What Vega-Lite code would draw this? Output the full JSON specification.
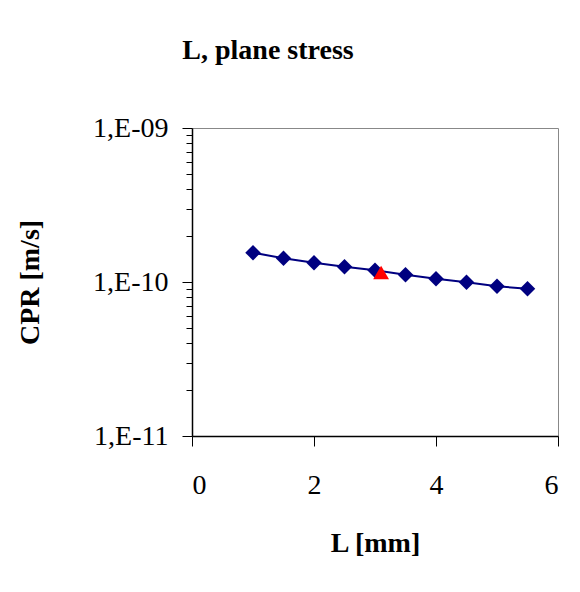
{
  "$schema": "https://vega.github.io/schema/vega-lite/v6.json",
  "autosize": {"type": "none"},
  "width": 366,
  "height": 308,
  "padding": {"left": 192, "top": 128, "right": 22, "bottom": 156},
  "background": "white",
  "config": {
    "view": {"stroke": "#888888", "strokeWidth": 1},
    "font": "Liberation Serif"
  },
  "title": {
    "text": "L, plane stress",
    "font": "Liberation Serif",
    "fontSize": 28,
    "fontWeight": "bold",
    "color": "black",
    "anchor": "middle",
    "dx": -107,
    "offset": 49
  },
  "datasets": {
    "series": [
      {"L": 1.0, "CPR": 1.55e-10},
      {"L": 1.5, "CPR": 1.425e-10},
      {"L": 2.0, "CPR": 1.334e-10},
      {"L": 2.5, "CPR": 1.257e-10},
      {"L": 3.0, "CPR": 1.19e-10},
      {"L": 3.5, "CPR": 1.115e-10},
      {"L": 4.0, "CPR": 1.05e-10},
      {"L": 4.5, "CPR": 9.95e-11},
      {"L": 5.0, "CPR": 9.38e-11},
      {"L": 5.5, "CPR": 9.05e-11}
    ],
    "ref": [
      {"L": 3.1, "CPR": 1.153e-10}
    ]
  },
  "layer": [
    {
      "data": {"name": "series"},
      "mark": {"type": "line", "color": "#000080", "strokeWidth": 2},
      "encoding": {
        "x": {
          "field": "L", "type": "quantitative",
          "scale": {"domain": [0, 6], "nice": false, "zero": false},
          "axis": {
            "title": "L [mm]",
            "values": [0, 2, 4, 6],
            "format": "d",
            "grid": false,
            "domainColor": "black",
            "domainWidth": 1.5,
            "tickColor": "black",
            "tickSize": 10,
            "tickWidth": 1,
            "labelFont": "Liberation Serif",
            "labelFontSize": 28,
            "labelColor": "black",
            "labelPadding": 25,
            "titleFont": "Liberation Serif",
            "titleFontSize": 28,
            "titleFontWeight": "bold",
            "titleColor": "black",
            "titlePadding": 30
          }
        },
        "y": {
          "field": "CPR", "type": "quantitative",
          "scale": {"type": "log", "domain": [1e-11, 1e-9], "nice": false},
          "axis": {
            "title": "CPR [m/s]",
            "values": [1e-11, 2e-11, 3e-11, 4e-11, 5e-11, 6e-11, 7e-11, 8e-11, 9e-11, 1e-10, 2e-10, 3e-10, 4e-10, 5e-10, 6e-10, 7e-10, 8e-10, 9e-10, 1e-9],
            "labelExpr": "abs(log(datum.value)/LN10 - round(log(datum.value)/LN10)) < 0.001 ? '1,E-' + (-round(log(datum.value)/LN10) < 10 ? '0' : '') + (-round(log(datum.value)/LN10)) : ''",
            "grid": false,
            "domainColor": "black",
            "domainWidth": 1.5,
            "tickColor": "black",
            "tickSize": {"condition": {"test": "abs(log(datum.value)/LN10 - round(log(datum.value)/LN10)) < 0.001", "value": 10}, "value": 6},
            "labelFont": "Liberation Serif",
            "labelFontSize": 28,
            "labelColor": "black",
            "labelPadding": 14,
            "titleFont": "Liberation Serif",
            "titleFontSize": 28,
            "titleFontWeight": "bold",
            "titleColor": "black",
            "titlePadding": 48
          }
        }
      }
    },
    {
      "data": {"name": "series"},
      "mark": {"type": "point", "shape": "diamond", "filled": true, "color": "#000080", "size": 240, "opacity": 1},
      "encoding": {
        "x": {"field": "L", "type": "quantitative"},
        "y": {"field": "CPR", "type": "quantitative"}
      }
    },
    {
      "data": {"name": "ref"},
      "mark": {"type": "point", "shape": "triangle-up", "filled": true, "color": "#ff0000", "size": 250, "opacity": 1},
      "encoding": {
        "x": {"field": "L", "type": "quantitative"},
        "y": {"field": "CPR", "type": "quantitative"}
      }
    }
  ]
}
